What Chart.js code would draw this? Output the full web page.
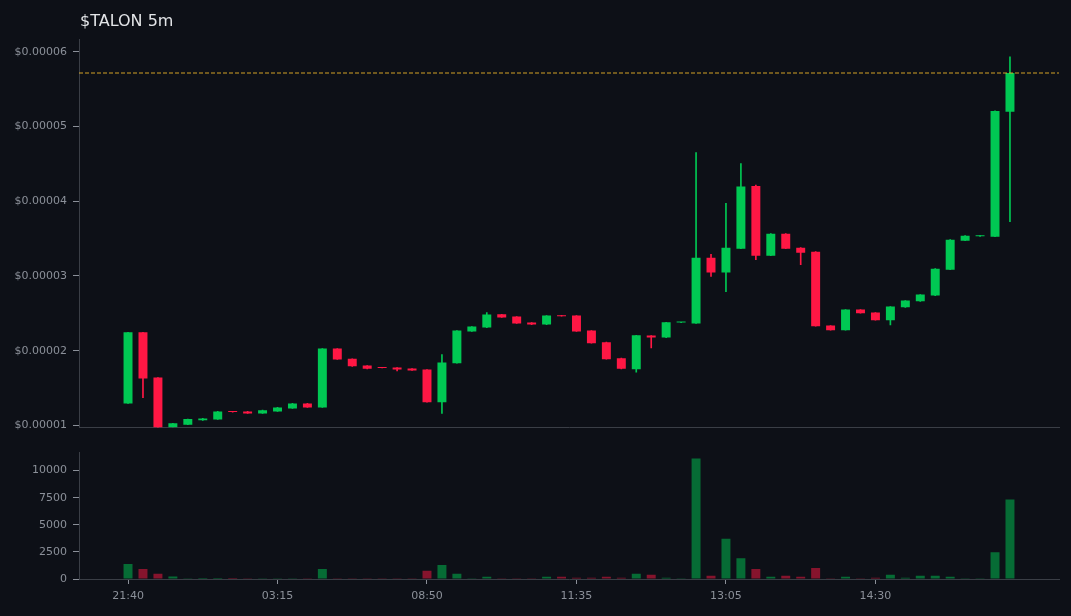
<!DOCTYPE html>
<html>
<head>
<meta charset="utf-8">
<script src="https://cdn.jsdelivr.net/npm/chart.js@4.4.1/dist/chart.umd.min.js"></script>
<style>
	html, body { margin: 0; padding: 0; background: #0d1017; }
	#wrap { position: relative; width: 1071px; height: 616px; }
	#price { position: absolute; left: 0; top: 0; }
	#vol { position: absolute; left: 0; top: 440px; }
</style>
</head>
<body>
<div id="wrap">
	<canvas id="price" width="1071" height="440"></canvas>
	<canvas id="vol" width="1071" height="176"></canvas>
</div>
<script>
const chartTitle = "$TALON 5m";

// 5m candles
const opens = [12.94e-6, 22.46e-6, 16.4e-6, 9.75e-6, 10.09e-6, 10.67e-6, 10.8e-6, 11.87e-6, 11.87e-6, 11.6e-6,
	11.87e-6, 12.27e-6, 12.94e-6, 12.4e-6, 20.28e-6, 18.9e-6, 18.0e-6, 17.75e-6, 17.75e-6, 17.61e-6,
	17.48e-6, 13.11e-6, 18.32e-6, 22.56e-6, 23.09e-6, 24.87e-6, 24.56e-6, 23.76e-6, 23.49e-6, 24.73e-6,
	24.69e-6, 22.69e-6, 21.13e-6, 18.99e-6, 17.52e-6, 22.02e-6, 21.75e-6, 23.76e-6, 23.63e-6, 32.44e-6,
	30.44e-6, 33.64e-6, 42.02e-6, 32.71e-6, 35.65e-6, 33.78e-6, 33.24e-6, 23.36e-6, 22.73e-6, 25.5e-6,
	25.1e-6, 24.07e-6, 25.8e-6, 26.6e-6, 27.37e-6, 30.84e-6, 34.71e-6, 35.3e-6, 35.25e-6, 51.95e-6];
const closes = [22.46e-6, 16.27e-6, 9.7e-6, 10.27e-6, 10.84e-6, 10.93e-6, 11.87e-6, 11.78e-6, 11.6e-6, 12.04e-6,
	12.4e-6, 12.94e-6, 12.4e-6, 20.28e-6, 18.81e-6, 17.9e-6, 17.57e-6, 17.68e-6, 17.48e-6, 17.35e-6,
	13.11e-6, 18.42e-6, 22.69e-6, 23.22e-6, 24.83e-6, 24.43e-6, 23.63e-6, 23.49e-6, 24.69e-6, 24.6e-6,
	22.56e-6, 21.0e-6, 18.86e-6, 17.57e-6, 22.06e-6, 21.75e-6, 23.8e-6, 23.8e-6, 32.44e-6, 30.44e-6,
	33.78e-6, 41.97e-6, 32.71e-6, 35.65e-6, 33.64e-6, 33.11e-6, 23.27e-6, 22.73e-6, 25.5e-6, 25.0e-6,
	24.07e-6, 25.9e-6, 26.7e-6, 27.5e-6, 30.97e-6, 34.85e-6, 35.38e-6, 35.38e-6, 52.08e-6, 57.15e-6];
const highs = [22.46e-6, 22.46e-6, 16.4e-6, 10.27e-6, 10.84e-6, 10.93e-6, 11.87e-6, 11.87e-6, 11.87e-6, 12.04e-6,
	12.4e-6, 12.94e-6, 12.94e-6, 20.28e-6, 20.28e-6, 18.9e-6, 18.0e-6, 17.75e-6, 17.75e-6, 17.61e-6,
	17.48e-6, 19.48e-6, 22.69e-6, 23.22e-6, 25.1e-6, 24.87e-6, 24.56e-6, 23.76e-6, 24.69e-6, 24.73e-6,
	24.69e-6, 22.69e-6, 21.13e-6, 18.99e-6, 22.06e-6, 22.02e-6, 23.8e-6, 23.8e-6, 46.51e-6, 32.88e-6,
	39.7e-6, 45.04e-6, 42.15e-6, 35.65e-6, 35.65e-6, 33.78e-6, 33.24e-6, 23.36e-6, 25.5e-6, 25.5e-6,
	25.1e-6, 25.9e-6, 26.7e-6, 27.5e-6, 30.97e-6, 34.85e-6, 35.38e-6, 35.38e-6, 52.08e-6, 59.33e-6];
const lows = [12.94e-6, 13.7e-6, 9.7e-6, 9.75e-6, 10.09e-6, 10.67e-6, 10.8e-6, 11.78e-6, 11.6e-6, 11.6e-6,
	11.87e-6, 12.27e-6, 12.4e-6, 12.4e-6, 18.81e-6, 17.9e-6, 17.57e-6, 17.68e-6, 17.3e-6, 17.35e-6,
	13.11e-6, 11.6e-6, 18.32e-6, 22.56e-6, 23.09e-6, 24.43e-6, 23.63e-6, 23.49e-6, 23.49e-6, 24.6e-6,
	22.56e-6, 21.0e-6, 18.86e-6, 17.57e-6, 17.12e-6, 20.38e-6, 21.75e-6, 23.76e-6, 23.63e-6, 29.94e-6,
	27.9e-6, 33.64e-6, 32.18e-6, 32.71e-6, 33.64e-6, 31.5e-6, 23.27e-6, 22.73e-6, 22.73e-6, 25.0e-6,
	24.07e-6, 23.45e-6, 25.8e-6, 26.6e-6, 27.37e-6, 30.84e-6, 34.71e-6, 35.3e-6, 35.25e-6, 37.25e-6];
const volumes = [1380, 930, 480, 235, 20, 90, 90, 90, 20, 20,
	70, 20, 80, 930, 80, 70, 20, 20, 20, 20,
	750, 1290, 480, 20, 210, 20, 20, 20, 200, 210,
	120, 120, 210, 120, 480, 390, 120, 20, 11108, 300,
	3720, 1920, 930, 210, 300, 210, 1020, 20, 210, 20,
	120, 390, 120, 300, 300, 210, 20, 20, 2460, 7330];

const timeTickIdx = [0, 10, 20, 30, 40, 50];
const timeTickLabels = ["21:40", "03:15", "08:50", "11:35", "13:05", "14:30"];
const priceTicks = [1e-5, 2e-5, 3e-5, 4e-5, 5e-5, 6e-5];
const volumeTicks = [0, 2500, 5000, 7500, 10000];

const upColor = "#00c853";
const downColor = "#ff1744";
const spineColor = "#3a3e46";
const labelColor = "#8b9099";

Chart.defaults.font.family = "'DejaVu Sans', sans-serif";
Chart.defaults.font.size = 11;

const idx = closes.map((c, i) => i);
const isUp = closes.map((c, i) => c >= opens[i]);
const candleColors = isUp.map(u => u ? upColor : downColor);
const volColors = isUp.map(u => u ? "rgba(0, 200, 83, 0.5)" : "rgba(255, 23, 68, 0.5)");
const xMin = -3.28, xMax = 62.28;
const lastClose = closes[closes.length - 1];

// title drawn at the left of the plot
const titlePlugin = {
	id: "titleText",
	afterDraw(chart) {
		const ctx = chart.ctx;
		ctx.save();
		ctx.font = "16px 'DejaVu Sans'";
		ctx.fillStyle = "#e3e5e8";
		ctx.textBaseline = "alphabetic";
		ctx.fillText(chartTitle, chart.chartArea.left + 1, 26);
		ctx.restore();
	}
};

function yAxis(min, max, tickList, fmt) {
	return {
		min: min,
		max: max,
		grid: { display: true, drawOnChartArea: false, tickLength: 6, tickColor: labelColor },
		border: { display: true, color: spineColor },
		ticks: { color: labelColor, padding: 6, callback: fmt },
		afterBuildTicks: s => { s.ticks = tickList.map(v => ({ value: v })); },
		afterFit: s => { s.width = 79; }
	};
}

new Chart(document.getElementById("price"), {
	type: "bar",
	data: {
		datasets: [
			{
				label: "wick",
				data: idx.map(i => ({ x: i, y: [lows[i], highs[i]] })),
				backgroundColor: candleColors,
				barThickness: 1,
				grouped: false,
				order: 2
			},
			{
				label: "body",
				data: idx.map(i => ({ x: i, y: [opens[i], closes[i]] })),
				backgroundColor: candleColors,
				barPercentage: 0.6,
				categoryPercentage: 1,
				minBarLength: 1,
				grouped: false,
				order: 1
			},
			{
				type: "line",
				label: "last",
				data: [{ x: xMin, y: lastClose }, { x: xMax, y: lastClose }],
				borderColor: "rgba(232, 178, 40, 0.9)",
				borderWidth: 1,
				borderDash: [4, 2],
				pointRadius: 0,
				order: 0
			}
		]
	},
	options: {
		responsive: false,
		animation: false,
		devicePixelRatio: 1,
		layout: { padding: { top: 39, right: 12, bottom: 12, left: 0 } },
		plugins: { legend: { display: false }, tooltip: { enabled: false } },
		scales: {
			x: {
				type: "linear",
				min: xMin,
				max: xMax,
				offset: false,
				grid: { display: false, offset: false },
				border: { display: true, color: spineColor },
				ticks: { display: false },
				afterFit: s => { s.height = 0; }
			},
			y: yAxis(9.73e-6, 61.7e-6, priceTicks, v => "$" + v.toFixed(5))
		}
	},
	plugins: [titlePlugin]
});

new Chart(document.getElementById("vol"), {
	type: "bar",
	data: {
		datasets: [{
			label: "volume",
			data: idx.map(i => ({ x: i, y: volumes[i] })),
			backgroundColor: volColors,
			barPercentage: 0.6,
			categoryPercentage: 1
		}]
	},
	options: {
		responsive: false,
		animation: false,
		devicePixelRatio: 1,
		layout: { padding: { top: 10, right: 12, bottom: 0, left: 0 } },
		plugins: { legend: { display: false }, tooltip: { enabled: false } },
		scales: {
			x: {
				type: "linear",
				min: xMin,
				max: xMax,
				offset: false,
				grid: { display: true, drawOnChartArea: false, offset: false, tickLength: 5, tickColor: labelColor },
				border: { display: true, color: spineColor },
				ticks: {
					color: labelColor,
					padding: 6,
					maxRotation: 0,
					callback: v => timeTickLabels[timeTickIdx.indexOf(v)]
				},
				afterBuildTicks: s => { s.ticks = timeTickIdx.map(v => ({ value: v })); },
				afterFit: s => { s.height = 37; }
			},
			y: yAxis(0, 11660, volumeTicks, v => String(v))
		}
	}
});
</script>
</body>
</html>
